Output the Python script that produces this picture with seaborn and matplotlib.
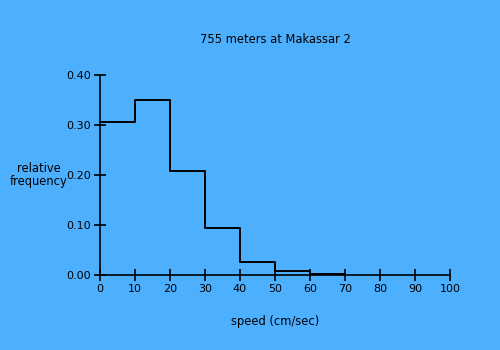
import matplotlib
matplotlib.use("Agg")
import matplotlib.pyplot as plt
import seaborn as sns
import numpy as np

# Speed distribution at 755 m depth, Makassar 2 mooring
bin_edges = [0, 10, 20, 30, 40, 50, 60, 70]
rel_freq = [0.307, 0.351, 0.208, 0.093, 0.026, 0.007, 0.002]
x_ticks = [0, 10, 20, 30, 40, 50, 60, 70, 80, 90, 100]
y_ticks = [0.00, 0.10, 0.20, 0.30, 0.40]

bg = "#4db0ff"
sns.set_style("ticks")
plt.rcParams["font.family"] = ["DejaVu Sans"]
plt.rcParams["text.color"] = "black"

fig = plt.figure(figsize=(5, 3.5), dpi=100, facecolor=bg)
ax = fig.add_axes([0.2, 0.2143, 0.7, 0.5714])
ax.set_facecolor(bg)

sns.histplot(x=bin_edges[:-1], weights=rel_freq, bins=bin_edges,
             element="step", fill=False, color="black", linewidth=1.4, ax=ax)

ax.set_xlim(0, 100)
ax.set_ylim(0, 0.40)
ax.set_xticks(x_ticks)
ax.set_yticks(y_ticks)
ax.set_yticklabels([f"{v:.2f}" for v in y_ticks])
ax.tick_params(direction="inout", length=8, width=1.2, colors="black",
               labelcolor="black", labelsize=8, pad=2.5)
for side in ("top", "right"):
    ax.spines[side].set_visible(False)
for side in ("left", "bottom"):
    ax.spines[side].set_linewidth(1.2)
    ax.spines[side].set_color("black")

ax.set_xlabel("")
ax.set_ylabel("")
fig.text(0.55, 0.886, "755 meters at Makassar 2", ha="center", va="center",
         fontsize=8.3, color="black")
fig.text(0.55, 0.08, "speed (cm/sec)", ha="center", va="center",
         fontsize=8.3, color="black")
fig.text(0.077, 0.50, "relative\nfrequency", ha="center", va="center",
         fontsize=8.3, color="black", linespacing=1.0)

fig.savefig("out.png", dpi=100, facecolor=bg)
